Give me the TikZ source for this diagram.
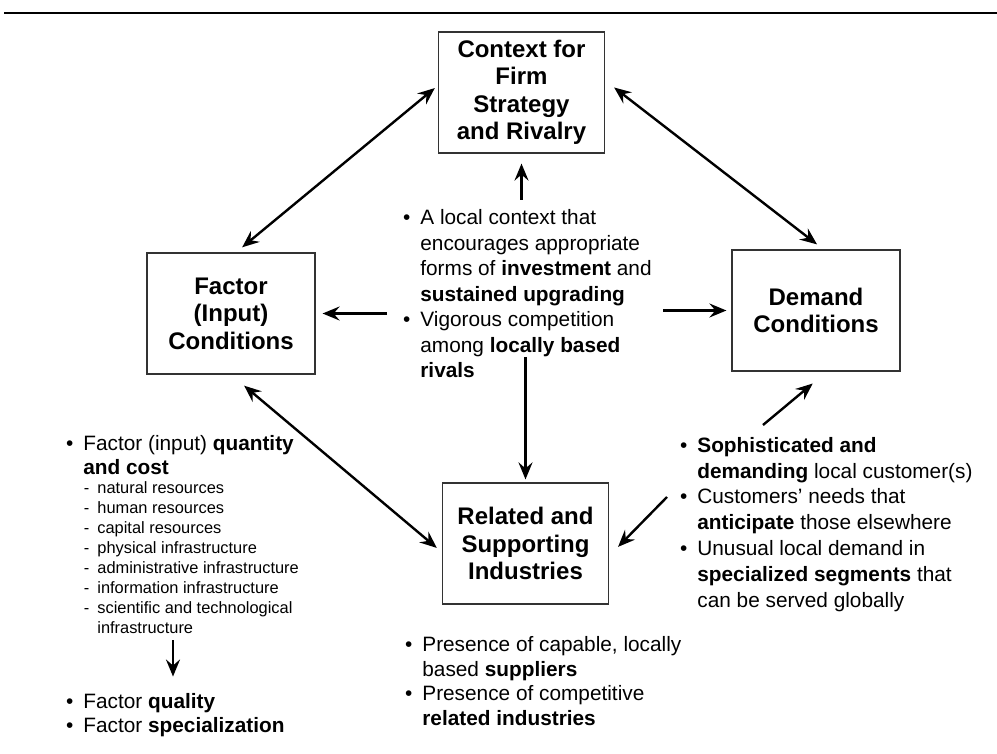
\documentclass[tikz,border=0pt]{standalone}
\usepackage{fontspec}
\setmainfont{Liberation Sans}
\usetikzlibrary{arrows.meta}
\newcommand{\bul}{\llap{\textbullet\hspace{5pt}}}
\newcommand{\dsh}{\llap{-\hspace{4pt}}}
\tikzset{
	box/.style={draw=black!80, line width=0.6pt, minimum width=83pt, minimum height=60.5pt,
		inner sep=0pt, align=center, font=\fontsize{12}{13.75}\selectfont\bfseries},
	txt/.style={anchor=base west, align=left, inner sep=0pt, font=\fontsize{10.4}{#1}\selectfont},
	txt/.default=12.75pt,
	small/.style={anchor=base west, align=left, inner sep=0pt, font=\fontsize{8.2}{9.95}\selectfont},
	arr/.style={-{Stealth[length=8.5pt,width=7pt,inset=3pt]}, line width=1.2pt},
	dbl/.style={{Stealth[length=8.5pt,width=7pt,inset=3pt]}-{Stealth[length=8.5pt,width=7pt,inset=3pt]}, line width=1.2pt}
}
\begin{document}
\begin{tikzpicture}[x=0.5pt, y=-0.5pt]
	\useasboundingbox (0,0) rectangle (997,754);
	%rule
	\draw[line width=1pt] (4,13) -- (997,13);
	%boxes
	\node[box] (context) at (521.5,92.5) {Context for\\Firm\\Strategy\\and Rivalry};
	\node[box, minimum width=84pt] (factor) at (231,313.5) {Factor\\(Input)\\Conditions};
	\node[box, minimum width=84pt] (demand) at (816,310.5) {Demand\\Conditions};
	\node[box] (related) at (525.5,543.5) {Related and\\Supporting\\Industries};
	%texts (placed at the baseline of their last line)
	\node[txt] (rivalry) at (420,378) {\bul A local context that\\encourages appropriate\\
		forms of \textbf{investment} and\\\textbf{sustained upgrading}\\
		\bul Vigorous competition\\among \textbf{locally based}\\\textbf{rivals}};
	\node[txt=12pt] (quantity) at (83,474) {\bul Factor (input) \textbf{quantity}\\\textbf{and cost}};
	\node[small] (resources) at (97,633) {\dsh natural resources\\\dsh human resources\\
		\dsh capital resources\\\dsh physical infrastructure\\\dsh administrative infrastructure\\
		\dsh information infrastructure\\\dsh scientific and technological\\infrastructure};
	\node[txt=12pt] (quality) at (83,732) {\bul Factor \textbf{quality}\\\bul Factor \textbf{specialization}};
	\node[txt=12.9pt] (customers) at (697,607) {\bul \textbf{Sophisticated and}\\
		\textbf{demanding} local customer(s)\\\bul Customers' needs that\\
		\textbf{anticipate} those elsewhere\\\bul Unusual local demand in\\
		\textbf{specialized segments} that\\can be served globally};
	\node[txt=12.25pt] (suppliers) at (422,725) {\bul Presence of capable, locally\\based \textbf{suppliers}\\
		\bul Presence of competitive\\\textbf{related industries}};
	%arrow tails
	\coordinate (up) at (521.5,200);
	\coordinate (left) at (387,313.5);
	\coordinate (right) at (663,310.5);
	\coordinate (down) at (525.5,357);
	\coordinate (dem) at (763,425);
	\coordinate (rel) at (667,497);
	\coordinate (fdown) at (173,640);
	%arrows
	\draw[dbl, shorten <=4pt, shorten >=2pt] ([xshift=2.5pt]factor.north) -- ([yshift=3.5pt]context.west);
	\draw[dbl, shorten <=5.7pt, shorten >=4.1pt] ([yshift=6pt]context.east) -- ([xshift=3.75pt]demand.north);
	\draw[dbl, shorten <=8.6pt, shorten >=3.3pt] (factor.south) -- ([yshift=-4.35pt]related.west);
	\draw[arr, shorten >=5pt] (up) -- (context.south);
	\draw[arr, shorten >=3.5pt] (left) -- (factor.east);
	\draw[arr, shorten >=2.5pt] (right) -- (demand.west);
	\draw[arr, shorten >=1.5pt] (down) -- (related.north);
	\draw[arr, shorten >=9.3pt] (dem) -- ([xshift=5.5pt]demand.south);
	\draw[arr, shorten >=6.4pt] (rel) -- ([yshift=-6.25pt]related.east);
	\draw[arr, shorten >=8pt] (fdown) -- (fdown |- quality.north);
\end{tikzpicture}
\end{document}
